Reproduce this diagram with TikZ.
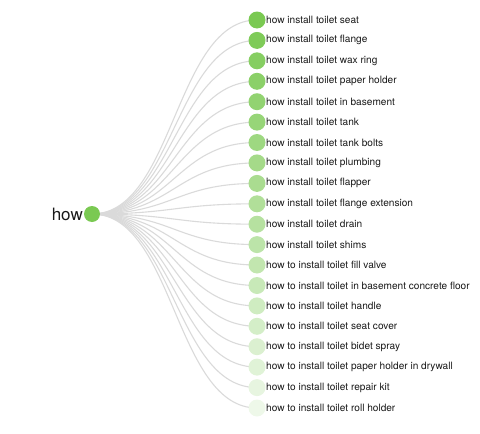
\documentclass[tikz,border=0pt]{standalone}
\usepackage{fontspec}
\setmainfont{TeX Gyre Heros}
\usetikzlibrary{backgrounds}
\definecolor{sprout}{RGB}{122,201,82}
\definecolor{vine}{RGB}{218,218,218}
\tikzstyle{mytreestyle}=[
    x=1pt, y=-1pt,
    every node/.style={
        font=\fontsize{10.1}{12}\selectfont,
        text=black!90,
    },
    leaf/.style={
        circle,
        inner sep=0pt,
        minimum size=17pt,
        fill=sprout!##1!white,
    },
    link/.style={
        draw=vine,
        line width=1.1pt,
    },
]

\begin{document}
\begin{tikzpicture}[mytreestyle]
        \useasboundingbox (0,0) rectangle (480,434);
        \node (root) at (92,214) [leaf=100, minimum size=16pt] {};
        \node (roottext) at (84,214) [anchor=east, inner sep=1pt, font=\fontsize{17}{20}\selectfont] {how};
        \node (l1) at (257,20) [leaf=100] {};
        \node (l2) at (257,40.4) [leaf=96] {};
        \node (l3) at (257,60.8) [leaf=91] {};
        \node (l4) at (257,81.3) [leaf=87] {};
        \node (l5) at (257,101.7) [leaf=82] {};
        \node (l6) at (257,122.1) [leaf=78] {};
        \node (l7) at (257,142.5) [leaf=73] {};
        \node (l8) at (257,162.9) [leaf=68] {};
        \node (l9) at (257,183.4) [leaf=64] {};
        \node (l10) at (257,203.8) [leaf=59] {};
        \node (l11) at (257,224.2) [leaf=55] {};
        \node (l12) at (257,244.6) [leaf=50] {};
        \node (l13) at (257,265) [leaf=46] {};
        \node (l14) at (257,285.5) [leaf=41] {};
        \node (l15) at (257,305.9) [leaf=36] {};
        \node (l16) at (257,326.3) [leaf=32] {};
        \node (l17) at (257,346.7) [leaf=27] {};
        \node (l18) at (257,367.1) [leaf=23] {};
        \node (l19) at (257,387.6) [leaf=18] {};
        \node (l20) at (257,408) [leaf=13] {};
        \begin{scope}[on background layer]
            \foreach \i in {1,...,20}
                \draw[link] (root.center) .. controls +(82,0) and +(-82,0) .. (l\i.center);
        \end{scope}
        \node (t1) at (265,20) [right, inner sep=1pt] {how install toilet seat};
        \node (t2) at (265,40.4) [right, inner sep=1pt] {how install toilet flange};
        \node (t3) at (265,60.8) [right, inner sep=1pt] {how install toilet wax ring};
        \node (t4) at (265,81.3) [right, inner sep=1pt] {how install toilet paper holder};
        \node (t5) at (265,101.7) [right, inner sep=1pt] {how install toilet in basement};
        \node (t6) at (265,122.1) [right, inner sep=1pt] {how install toilet tank};
        \node (t7) at (265,142.5) [right, inner sep=1pt] {how install toilet tank bolts};
        \node (t8) at (265,162.9) [right, inner sep=1pt] {how install toilet plumbing};
        \node (t9) at (265,183.4) [right, inner sep=1pt] {how install toilet flapper};
        \node (t10) at (265,203.8) [right, inner sep=1pt] {how install toilet flange extension};
        \node (t11) at (265,224.2) [right, inner sep=1pt] {how install toilet drain};
        \node (t12) at (265,244.6) [right, inner sep=1pt] {how install toilet shims};
        \node (t13) at (265,265) [right, inner sep=1pt] {how to install toilet fill valve};
        \node (t14) at (265,285.5) [right, inner sep=1pt] {how to install toilet in basement concrete floor};
        \node (t15) at (265,305.9) [right, inner sep=1pt] {how to install toilet handle};
        \node (t16) at (265,326.3) [right, inner sep=1pt] {how to install toilet seat cover};
        \node (t17) at (265,346.7) [right, inner sep=1pt] {how to install toilet bidet spray};
        \node (t18) at (265,367.1) [right, inner sep=1pt] {how to install toilet paper holder in drywall};
        \node (t19) at (265,387.6) [right, inner sep=1pt] {how to install toilet repair kit};
        \node (t20) at (265,408) [right, inner sep=1pt] {how to install toilet roll holder};
    \end{tikzpicture}
\end{document}
